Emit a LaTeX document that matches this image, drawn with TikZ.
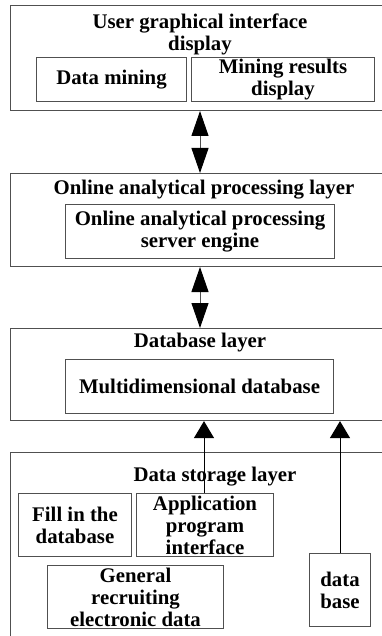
\documentclass[tikz,border=0pt]{standalone}
\usepackage{fontspec}
\setmainfont{Liberation Serif}
\usetikzlibrary{arrows.meta}

\definecolor{edge}{HTML}{505050}

\tikzset{
  layerbox/.style={draw=edge, line width=1.1pt, anchor=north west, inner sep=0pt},
  unitbox/.style={draw=edge, line width=1pt, anchor=north west, inner sep=0pt,
    align=center, font=\lbl},
  heading/.style={align=center, font=\lbl, inner sep=0pt},
  twoway/.style={draw=edge, line width=1pt,
    {Triangle[length=25pt,width=17pt,color=black]}-{Triangle[length=25pt,width=17pt,color=black]}},
  oneway/.style={draw=black, line width=1pt,
    -{Triangle[length=17pt,width=20pt,color=black]}}
}
\newcommand{\lbl}{\fontsize{20.8}{22}\selectfont\bfseries}

\begin{document}
\begin{tikzpicture}[x=1pt,y=-1pt]
  \useasboundingbox (0,0) rectangle (382,636);
  \clip (0,0) rectangle (382,636);

  % user interface layer
  \node[layerbox, minimum width=400pt, minimum height=105pt] (ui) at (10,5) {};
  \node[heading] (uit) at (200,34) {User graphical interface\\display};
  \node[unitbox, minimum width=150pt, minimum height=44pt] (dm) at (36,57) {Data mining};
  \node[unitbox, minimum width=183pt, minimum height=44pt] (mr) at (191,57) {Mining results\\display};

  % OLAP layer
  \node[layerbox, minimum width=400pt, minimum height=93pt] (olap) at (10,173) {};
  \node[heading] (olapt) at (204,190) {Online analytical processing layer};
  \node[unitbox, minimum width=269pt, minimum height=54pt] (eng) at (65,204) {Online analytical processing\\server engine};

  % database layer
  \node[layerbox, minimum width=400pt, minimum height=92pt] (dbl) at (10,328) {};
  \node[heading] (dblt) at (200,343) {Database layer};
  \node[unitbox, minimum width=268pt, minimum height=54pt] (mdb) at (65,359) {Multidimensional database};

  % data storage layer
  \node[layerbox, minimum width=400pt, minimum height=220pt] (dsl) at (10,452) {};
  \node[heading] (dslt) at (215,477) {Data storage layer};
  \node[unitbox, minimum width=113pt, minimum height=63pt] (fill) at (18,493) {Fill in the\\database};
  \node[unitbox, minimum width=137pt, minimum height=63pt] (api) at (136,493) {Application\\program\\interface};
  \node[unitbox, minimum width=176pt, minimum height=63pt] (gen) at (47,565) {General\\recruiting\\electronic data};
  \node[unitbox, minimum width=61pt, minimum height=73pt] (db) at (309,553) {data\\base};

  % connectors between layers
  \coordinate (a1) at (200,111);
  \coordinate (a2) at (200,173);
  \draw[twoway] (a1) -- (a2);
  \coordinate (b1) at (200,267);
  \coordinate (b2) at (200,328);
  \draw[twoway] (b1) -- (b2);
  \draw[oneway] (api.north -| 204,0) -- (dbl.south -| 204,0);
  \draw[oneway] (db.north) -- (dbl.south -| db.north);
\end{tikzpicture}
\end{document}
